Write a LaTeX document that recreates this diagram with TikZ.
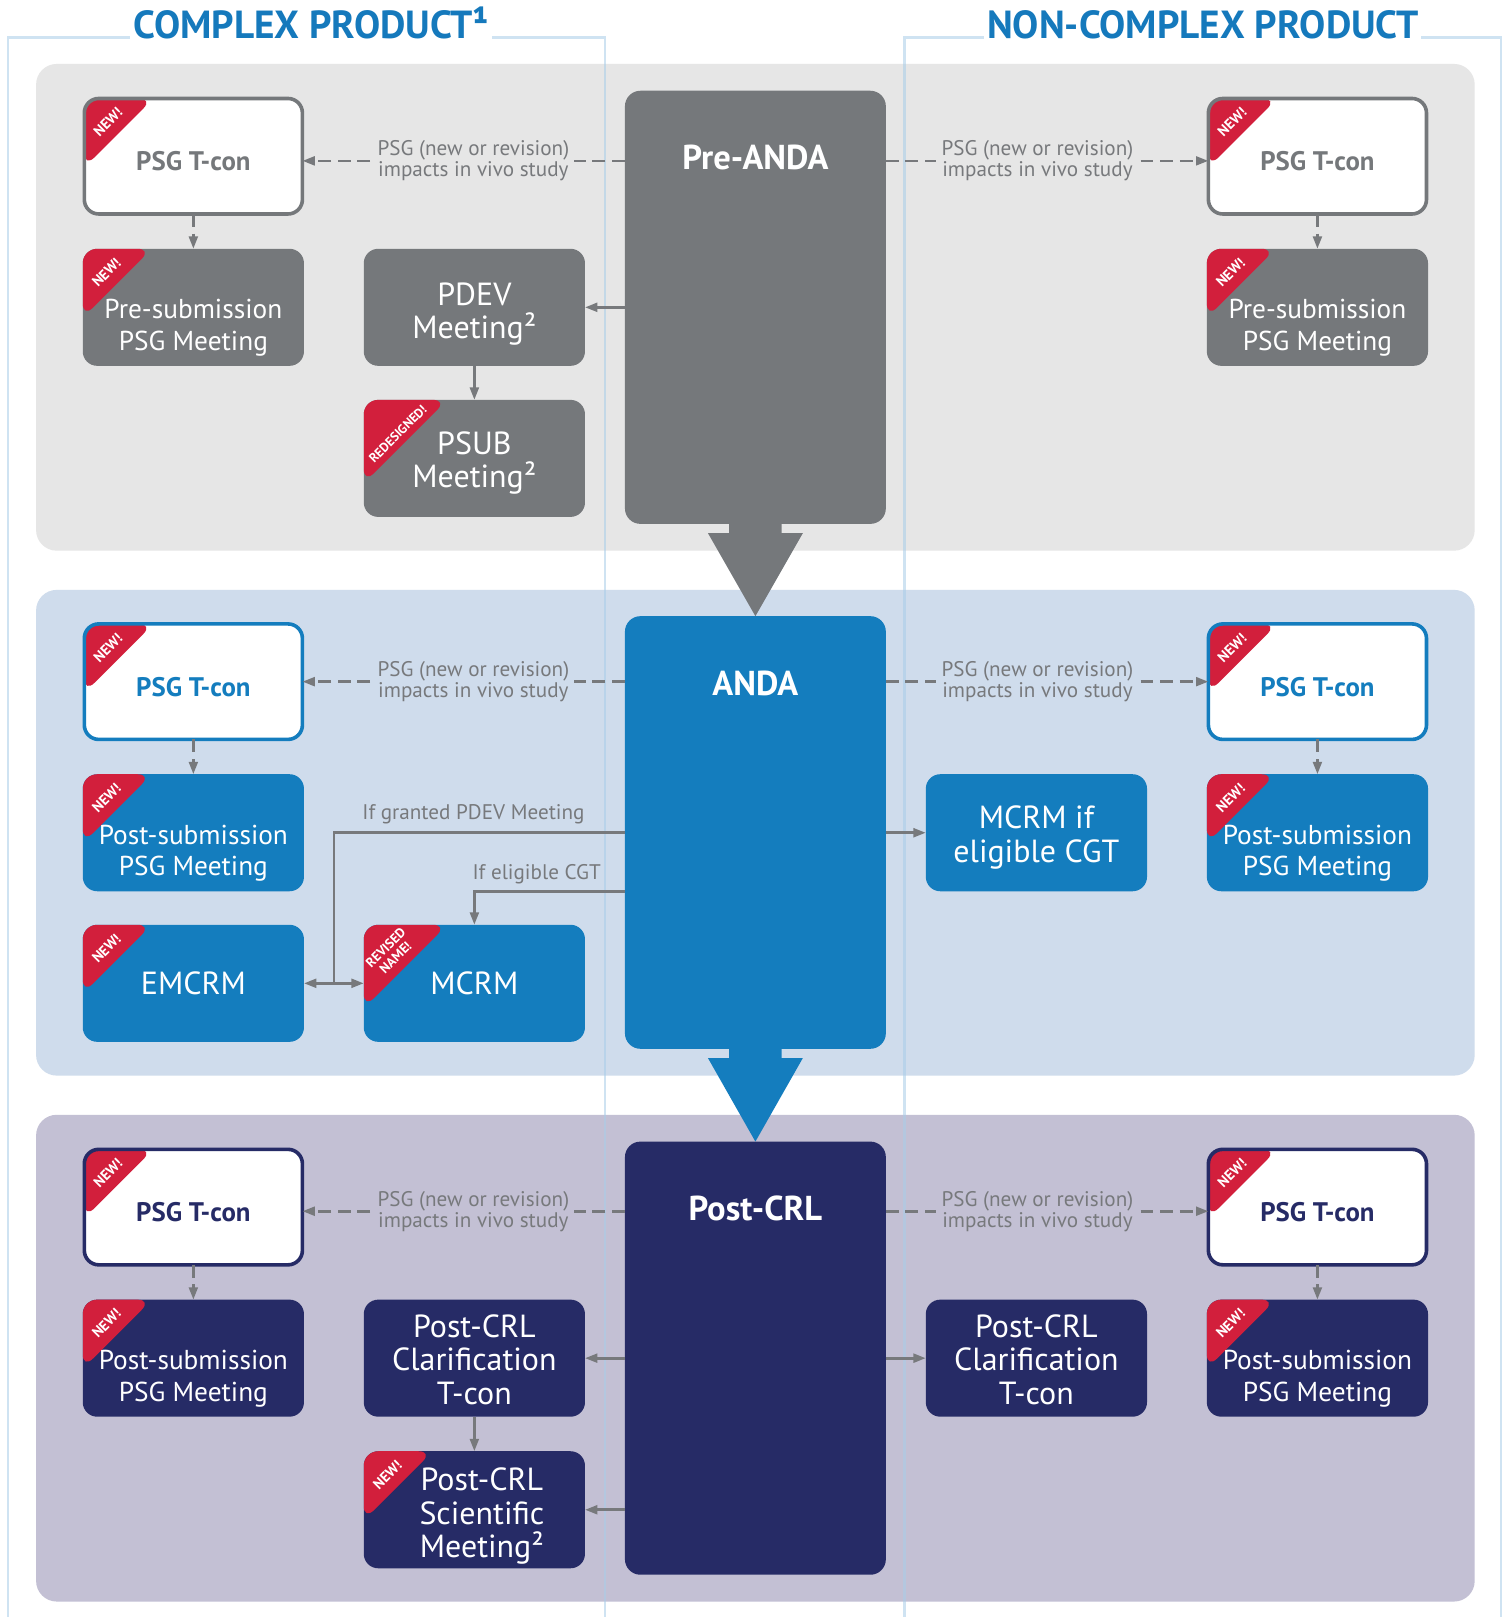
\documentclass[tikz,border=0pt]{standalone}
\usepackage{fontspec}
\setmainfont{PT Sans}
\usetikzlibrary{arrows.meta,calc}
\definecolor{tagred}{HTML}{D21F3C}
\definecolor{cgray}{HTML}{75787B}
\definecolor{cblue}{HTML}{147DBE}
\definecolor{cnavy}{HTML}{262B66}
\definecolor{bandA}{HTML}{E6E6E6}
\definecolor{bandB}{HTML}{CFDCEC}
\definecolor{bandC}{HTML}{C3C0D4}
\definecolor{hblue}{HTML}{1579BC}
\definecolor{lgray}{HTML}{77797C}
\definecolor{framec}{HTML}{A8CDE9}
\newcommand\newtagtext[1]{\node[tagtxt] (#1-tag) at ([shift={(23,23)}]#1.north west) {NEW!};}
\begin{document}
\begin{tikzpicture}[x=1pt,y=-1pt,
  mbox/.style={rectangle,rounded corners=14pt,minimum width=214.5pt,minimum height=113.5pt,inner sep=0pt,outer sep=0pt},
  fillbox/.style={mbox,fill=#1},
  tconbox/.style={mbox,fill=white,draw=#1,line width=3.5pt,minimum width=211.5pt,minimum height=112pt},
  cbox/.style={rectangle,rounded corners=15pt,minimum width=253pt,minimum height=#1,inner sep=0pt,outer sep=0pt},
  newtag/.style={path picture={\fill[tagred] (path picture bounding box.north west) -- ++(67,0) -- ++(-67,67) -- cycle;}},
  bigtag/.style={path picture={\fill[tagred] (path picture bounding box.north west) -- ++(81,0) -- ++(-81,81) -- cycle;}},
  tagtxt/.style={text=white,font=\bfseries\fontsize{14}{14.5}\selectfont,inner sep=0pt,rotate=45,align=center},
  tcontxt/.style={font=\bfseries\fontsize{26}{30}\selectfont,inner sep=0pt,text=#1},
  subtxt/.style={font=\fontsize{26.5}{30.5}\selectfont,inner sep=0pt,text=white,align=center},
  bigtxt/.style={font=\fontsize{31}{32.3}\selectfont,inner sep=0pt,text=white,align=center},
  ctitle/.style={font=\bfseries\fontsize{33.5}{38}\selectfont,inner sep=0pt,text=white},
  lbl/.style={font=\fontsize{20.5}{20.5}\selectfont,text=lgray,align=center,inner xsep=5pt,inner ysep=1pt,fill=#1},
  lbltxt/.style={font=\fontsize{20.5}{24}\selectfont,text=lgray,inner sep=0pt},
  hdr/.style={text=hblue,font=\bfseries\fontsize{38}{42}\selectfont,fill=white,inner xsep=3pt,inner ysep=3pt,anchor=base},
  cline/.style={draw=lgray,line width=2.6pt},
  conn/.style={cline,-{Triangle[length=12pt,width=8.5pt]}},
  dconn/.style={conn,dash pattern=on 12.5pt off 6.5pt},
  dbl/.style={cline,{Triangle[length=12pt,width=8.5pt]}-{Triangle[length=12pt,width=8.5pt]}},
  framel/.style={draw=framec,draw opacity=0.55,line width=2.5pt},
]
% canvas
\fill[white] (0,0) rectangle (1460,1568);
\useasboundingbox (0,0) rectangle (1460,1568);
% bands
\fill[bandA,rounded corners=20pt] (35,62) rectangle (1430,534);
\fill[bandB,rounded corners=20pt] (35,572) rectangle (1430,1043);
\fill[bandC,rounded corners=20pt] (35,1081) rectangle (1430,1553);
% frames and headers
\draw[framel] (7.7,1568) -- (7.7,36.5) -- (586.5,36.5) -- (586.5,1568);
\draw[framel] (877,1568) -- (877,36.5) -- (1455.5,36.5) -- (1455.5,1568);
\node[hdr] (hdrL) at (301.7,37.5) {COMPLEX PRODUCT¹};
\node[hdr] (hdrR) at (1166.3,37.5) {NON-COMPLEX PRODUCT};
% central boxes
\node[cbox=420pt,fill=cgray] (preanda) at (732.5,298) {};
\node[cbox=419.5pt,fill=cblue] (anda) at (732.5,807.25) {};
\node[cbox=420pt,fill=cnavy] (postcrl) at (732.5,1317) {};
\node[ctitle] (preanda-t) at ([yshift=-65pt]preanda.north) {Pre-ANDA};
\node[ctitle] (anda-t) at ([yshift=-65.5pt]anda.north) {ANDA};
\node[ctitle] (postcrl-t) at ([yshift=-64.5pt]postcrl.north) {Post-CRL};
\fill[cgray] ([xshift=-25.5pt,yshift=2pt]preanda.south) -- ++(0,11) -- ++(-20.5,0) -- (anda.north) -- ($(preanda.south)+(46,9)$) -- ++(-20.5,0) -- ++(0,-11) -- cycle;
\fill[cblue] ([xshift=-25.5pt,yshift=2pt]anda.south) -- ++(0,11) -- ++(-20.5,0) -- (postcrl.north) -- ($(anda.south)+(46,9)$) -- ++(-20.5,0) -- ++(0,-11) -- cycle;
% ---------- band A : Pre-ANDA
\node[tconbox=cgray,newtag] (tconAL) at (187.5,151.5) {};
\node[tconbox=cgray,newtag] (tconAR) at (1277.5,151.5) {};
\node[fillbox=cgray,newtag] (subAL) at (187.5,298) {};
\node[fillbox=cgray,newtag] (subAR) at (1277.5,298) {};
\node[fillbox=cgray] (pdev) at (460,298) {};
\node[fillbox=cgray,bigtag] (psub) at (460,444.5) {};
\node[tcontxt=cgray] (tconAL-t) at ([yshift=-5pt]tconAL.center) {PSG T-con};
\node[tcontxt=cgray] (tconAR-t) at ([yshift=-5pt]tconAR.center) {PSG T-con};
\node[subtxt] (subAL-t) at ([yshift=-20pt]subAL.center) {Pre-submission\\PSG Meeting};
\node[subtxt] (subAR-t) at ([yshift=-20pt]subAR.center) {Pre-submission\\PSG Meeting};
\node[bigtxt] (pdev-t) at ([yshift=-6.6pt]pdev.center) {PDEV\\Meeting²};
\node[bigtxt] (psub-t) at ([yshift=-4.7pt]psub.center) {PSUB\\Meeting²};
\newtagtext{tconAL}\newtagtext{tconAR}\newtagtext{subAL}\newtagtext{subAR}
\node[tagtxt,font=\bfseries\fontsize{12.5}{12.5}\selectfont] (psub-tag) at ([shift={(33,33)}]psub.north west) {REDESIGNED!};
% ---------- band B : ANDA
\node[tconbox=cblue,newtag] (tconBL) at (187.5,661) {};
\node[tconbox=cblue,newtag] (tconBR) at (1277.5,661) {};
\node[fillbox=cblue,newtag] (subBL) at (187.5,807.5) {};
\node[fillbox=cblue,newtag] (subBR) at (1277.5,807.5) {};
\node[fillbox=cblue,newtag] (emcrm) at (187.5,953.5) {};
\node[fillbox=cblue,bigtag] (mcrm) at (460,953.5) {};
\node[fillbox=cblue] (mcrmif) at (1005,807.5) {};
\node[tcontxt=cblue] (tconBL-t) at ([yshift=-5pt]tconBL.center) {PSG T-con};
\node[tcontxt=cblue] (tconBR-t) at ([yshift=-5pt]tconBR.center) {PSG T-con};
\node[subtxt] (subBL-t) at ([yshift=-20pt]subBL.center) {Post-submission\\PSG Meeting};
\node[subtxt] (subBR-t) at ([yshift=-20pt]subBR.center) {Post-submission\\PSG Meeting};
\node[bigtxt] (emcrm-t) at (emcrm.center) {EMCRM};
\node[bigtxt] (mcrm-t) at (mcrm.center) {MCRM};
\node[bigtxt] (mcrmif-t) at ([yshift=-4.5pt]mcrmif.center) {MCRM if\\eligible CGT};
\newtagtext{tconBL}\newtagtext{tconBR}\newtagtext{subBL}\newtagtext{subBR}\newtagtext{emcrm}
\node[tagtxt,font=\bfseries\fontsize{13}{13.5}\selectfont] (mcrm-tag) at ([shift={(26,27)}]mcrm.north west) {REVISED\\NAME!};
% ---------- band C : Post-CRL
\node[tconbox=cnavy,newtag] (tconCL) at (187.5,1170.5) {};
\node[tconbox=cnavy,newtag] (tconCR) at (1277.5,1170.5) {};
\node[fillbox=cnavy,newtag] (subCL) at (187.5,1317) {};
\node[fillbox=cnavy,newtag] (subCR) at (1277.5,1317) {};
\node[fillbox=cnavy] (clarL) at (460,1317) {};
\node[fillbox=cnavy,newtag] (sci) at (460,1464) {};
\node[fillbox=cnavy] (clarR) at (1005,1317) {};
\node[tcontxt=cnavy] (tconCL-t) at ([yshift=-5pt]tconCL.center) {PSG T-con};
\node[tcontxt=cnavy] (tconCR-t) at ([yshift=-5pt]tconCR.center) {PSG T-con};
\node[subtxt] (subCL-t) at ([yshift=-20pt]subCL.center) {Post-submission\\PSG Meeting};
\node[subtxt] (subCR-t) at ([yshift=-20pt]subCR.center) {Post-submission\\PSG Meeting};
\node[bigtxt] (clarL-t) at ([yshift=-1.5pt]clarL.center) {Post-CRL\\Clarification\\T-con};
\node[bigtxt] (clarR-t) at ([yshift=-1.5pt]clarR.center) {Post-CRL\\Clarification\\T-con};
\node[bigtxt] (sci-t) at ([xshift=7.3pt,yshift=-6.3pt]sci.center) {Post-CRL\\Scientific\\Meeting²};
\newtagtext{tconCL}\newtagtext{tconCR}\newtagtext{subCL}\newtagtext{subCR}\newtagtext{sci}
% ---------- connectors band A
\draw[dconn] ($(preanda.west|-tconAL.east)+(0,4.5)$) -- ($(tconAL.east)+(0,4.5)$) node[lbl=bandA,pos=0.47] (lblAL) {PSG (new or revision)\\impacts in vivo study};
\draw[dconn] ($(preanda.east|-tconAR.west)+(0,4.5)$) -- ($(tconAR.west)+(0,4.5)$) node[lbl=bandA,pos=0.47] (lblAR) {PSG (new or revision)\\impacts in vivo study};
\draw[dconn] (tconAL.south) -- (subAL.north);
\draw[dconn] (tconAR.south) -- (subAR.north);
\draw[conn] (preanda.west|-pdev.east) -- (pdev.east);
\draw[conn] (pdev.south) -- (psub.north);
% ---------- connectors band B
\draw[dconn] (anda.west|-tconBL.east) -- (tconBL.east) node[lbl=bandB,pos=0.47] (lblBL) {PSG (new or revision)\\impacts in vivo study};
\draw[dconn] (anda.east|-tconBR.west) -- (tconBR.west) node[lbl=bandB,pos=0.47] (lblBR) {PSG (new or revision)\\impacts in vivo study};
\draw[dconn] (tconBL.south) -- (subBL.north);
\draw[dconn] (tconBR.south) -- (subBR.north);
\coordinate (pdevjoin) at ($(emcrm.east)!0.5!(mcrm.west)$);
\draw[cline] (anda.west|-subBL.east) -| (pdevjoin);
\draw[dbl] (emcrm.east) -- (mcrm.west);
\draw[conn] (anda.west|-subBL.south) -| (mcrm.north);
\draw[conn] (anda.east|-mcrmif.west) -- (mcrmif.west);
\node[lbltxt,anchor=base east] (lblpdev) at (567,795) {If granted PDEV Meeting};
\node[lbltxt,anchor=base west] (lblcgt) at (458,853) {If eligible CGT};
% ---------- connectors band C
\draw[dconn] ($(postcrl.west|-tconCL.east)+(0,4)$) -- ($(tconCL.east)+(0,4)$) node[lbl=bandC,pos=0.47] (lblCL) {PSG (new or revision)\\impacts in vivo study};
\draw[dconn] ($(postcrl.east|-tconCR.west)+(0,4)$) -- ($(tconCR.west)+(0,4)$) node[lbl=bandC,pos=0.47] (lblCR) {PSG (new or revision)\\impacts in vivo study};
\draw[dconn] (tconCL.south) -- (subCL.north);
\draw[dconn] (tconCR.south) -- (subCR.north);
\draw[conn] (postcrl.west|-clarL.east) -- (clarL.east);
\draw[conn] (clarL.south) -- (sci.north);
\draw[conn] (postcrl.west|-sci.east) -- (sci.east);
\draw[conn] (postcrl.east|-clarR.west) -- (clarR.west);
\end{tikzpicture}
\end{document}
